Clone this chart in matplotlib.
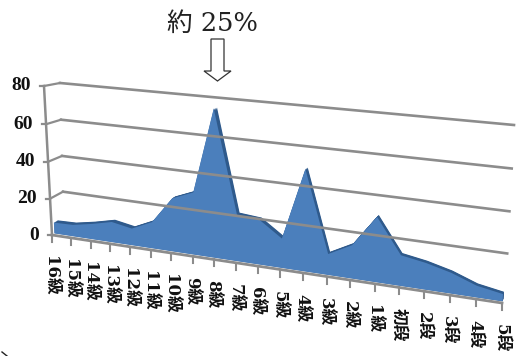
import numpy as np
import matplotlib
matplotlib.use('Agg')
import matplotlib.pyplot as plt
from matplotlib.patches import FancyArrow
from matplotlib.transforms import Transform

categories = ['16級', '15級', '14級', '13級', '12級', '11級', '10級', '9級', '8級', '7級', '6級',
              '5級', '4級', '3級', '2級', '1級', '初段', '2段', '3段', '4段', '5段']
values = [6, 6.3, 8.4, 11, 9, 14, 28, 32.5, 76, 24, 23, 15, 51, 10.5, 16.6, 32, 15, 13, 10, 5.6, 3.5]
y_ticks = [0, 20, 40, 60, 80]

# pixel corners of the front and back planes: bottom-left, bottom-right, top-left, top-right
front = np.array([[52, 235], [502, 303], [44, 86], [511, 128]], dtype=float)
back = np.array([[64, 227], [505, 295], [60, 83], [514, 125]], dtype=float)


class WallTransform(Transform):
    '''(category index, value) to pixels on a plane seen in perspective'''
    input_dims = 2
    output_dims = 2

    def __init__(self, corners):
        super().__init__()
        src = [(0, 0), (20, 0), (0, 80), (20, 80)]
        A, b = [], []
        for (u, v), (x, y) in zip(src, corners):
            A.append([u, v, 1, 0, 0, 0, -u * x, -v * x])
            A.append([0, 0, 0, u, v, 1, -u * y, -v * y])
            b += [x, y]
        self.h = np.append(np.linalg.solve(np.array(A), np.array(b)), 1).reshape(3, 3)

    def transform_non_affine(self, values):
        pts = np.column_stack([values, np.ones(len(values))]) @ self.h.T
        return pts[:, :2] / pts[:, 2:]


def plane(depth):
    return WallTransform(front + (back - front) * depth)


fig = plt.figure(figsize=(5.18, 3.56), dpi=100)
ax = fig.add_axes([0, 0, 1, 1])
ax.set_xlim(0, 518)
ax.set_ylim(356, 0)
ax.set_autoscale_on(False)
ax.axis('off')

grey = '#8c8c8c'
front_t = plane(0)
back_t = plane(1)

# back wall grid and the short connectors on the side wall
for t in y_ticks[1:]:
    ax.plot([0, 20], [t, t], color=grey, lw=1.9, transform=back_t + ax.transData)
    p0 = front_t.transform([[0, t]])[0]
    p1 = back_t.transform([[0, t]])[0]
    ax.plot([p0[0], p1[0]], [p0[1], p1[1]], color=grey, lw=1.6)
    ax.plot([p0[0] - 4, p0[0]], [p0[1], p0[1]], color=grey, lw=1.6)

# value axis on the front edge
ax.plot([0, 0], [0, 80], color=grey, lw=1.8, transform=front_t + ax.transData)
base = front_t.transform([[0, 0]])[0]
ax.plot([base[0] - 4, base[0]], [base[1], base[1]], color=grey, lw=1.6)

# category axis with ticks
ax.plot([0, 20], [0, 0], color=grey, lw=2, transform=front_t + ax.transData)
for i in range(len(categories)):
    x, y = front_t.transform([[i, 0]])[0]
    ax.plot([x, x], [y, y + 7], color=grey, lw=1.5)

# area with its dark extruded side
xs = np.arange(len(values))
poly_x = np.concatenate([[0], xs, [20]])
poly_y = np.concatenate([[0], values, [0]])
for d in np.linspace(0.5, 0.22, 6):
    ax.fill(poly_x, poly_y, color='#2f5a8c', lw=0, transform=plane(d) + ax.transData)
ax.fill(poly_x, poly_y, color='#4b7fbc', lw=0, transform=plane(0.2) + ax.transData)

# tick labels
for t in y_ticks:
    x, y = front_t.transform([[0, t]])[0]
    ax.text(x - 13, y, str(t), ha='right', va='center', fontsize=14,
            family='Liberation Serif', weight='bold', color='#111111')
for i, name in enumerate(categories):
    x, y = front_t.transform([[i, 0]])[0]
    ax.text(x - 1, y + 21, name, rotation=270, ha='center', va='top', fontsize=12,
            family=['DejaVu Serif', 'Noto Sans CJK JP'], weight='bold', color='#111111')

# note above the peak
ax.text(212.5, 23, '約 25%', ha='center', va='center', fontsize=18.5,
        family=['DejaVu Serif', 'Noto Sans CJK JP'], color='#222222')
ax.add_patch(FancyArrow(217.5, 39, 0, 42, width=13, head_width=27, head_length=10,
                        length_includes_head=True, fc='white', ec='#333333', lw=0.9))

# stray stroke in the lower left corner
ax.plot([2, 7], [352, 356], color='#222222', lw=1)

fig.savefig('out.png', dpi=100)
